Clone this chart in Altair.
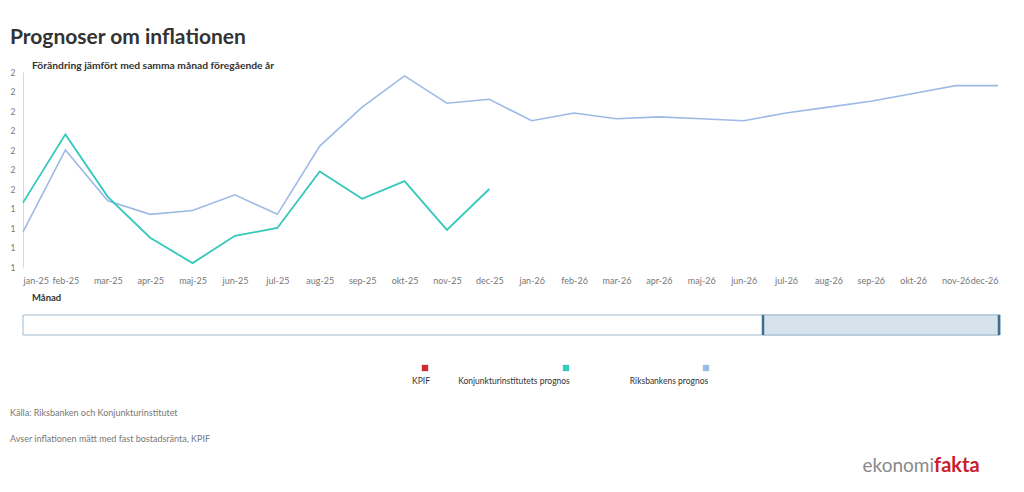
import altair as alt
import pandas as pd

months = ["jan-25", "feb-25", "mar-25", "apr-25", "maj-25", "jun-25", "jul-25", "aug-25",
          "sep-25", "okt-25", "nov-25", "dec-25", "jan-26", "feb-26", "mar-26", "apr-26",
          "maj-26", "jun-26", "jul-26", "aug-26", "sep-26", "okt-26", "nov-26", "dec-26"]

riksbank = [1.28, 1.70, 1.44, 1.37, 1.39, 1.47, 1.37, 1.72, 1.92, 2.08, 1.94, 1.96,
            1.85, 1.89, 1.86, 1.87, 1.86, 1.85, 1.89, 1.92, 1.95, 1.99, 2.03, 2.03]

ki = [1.43, 1.78, 1.46, 1.25, 1.12, 1.26, 1.30, 1.59, 1.45, 1.54, 1.29, 1.50]

y_ticks = [1.1, 1.2, 1.3, 1.4, 1.5, 1.6, 1.7, 1.8, 1.9, 2.0, 2.1]

series_names = ["KPIF", "Konjunkturinstitutets prognos", "Riksbankens prognos"]
series_colors = ["#d42a2f", "#35c8bc", "#9dbae6"]

rows = []
for m, v in zip(months, riksbank):
    rows.append({"månad": m, "värde": v, "serie": series_names[2]})
for m, v in zip(months, ki):
    rows.append({"månad": m, "värde": v, "serie": series_names[1]})
df = pd.DataFrame(rows)

FONT = "Lato"
W, H = 975, 195

x_enc = alt.X("månad:N", sort=months, title=None,
              scale=alt.Scale(type="point", padding=0),
              axis=alt.Axis(labelAngle=0, labelFlush=True, labelOverlap=False,
                            domain=False, ticks=False, labelPadding=9,
                            labelColor="#777", labelFontSize=9, labelFont=FONT))
y_enc = alt.Y("värde:Q", title=None,
              scale=alt.Scale(domain=[1.1, 2.1], nice=False, zero=False),
              axis=alt.Axis(values=y_ticks, format=".0f", grid=False, ticks=False,
                            domainColor="#d8d8d8", labelPadding=8,
                            labelColor="#777", labelFontSize=8.5, labelFont=FONT))

rb_line = alt.Chart(df[df["serie"] == series_names[2]]).mark_line(
    color=series_colors[2], strokeWidth=1.6).encode(x=x_enc, y=y_enc)
ki_line = alt.Chart(df[df["serie"] == series_names[1]]).mark_line(
    color=series_colors[1], strokeWidth=1.8).encode(x=x_enc, y=y_enc)

one = alt.Data(values=[{"a": 1}])


def txt(s, x, y, size=9, weight="normal", color="#666", align="left"):
    return alt.Chart(one).mark_text(
        text=s, font=FONT, fontSize=size, fontWeight=weight, color=color,
        align=align, baseline="middle").encode(x=alt.value(x), y=alt.value(y))


title = txt("Prognoser om inflationen", -13, -34, size=21, weight="bold", color="#333")
subtitle = txt("Förändring jämfört med samma månad föregående år", 9, -6,
               size=10.3, weight="bold", color="#333")
manad = txt("Månad", 9, 226, size=9.5, weight="bold", color="#333")

nav_outer = alt.Chart(one).mark_rect(fill="white", stroke="#9fbbd0", strokeWidth=1).encode(
    x=alt.value(0), x2=alt.value(977), y=alt.value(243), y2=alt.value(263))
nav_sel = alt.Chart(one).mark_rect(fill="#d6e3ec", stroke="#9fbbd0", strokeWidth=1).encode(
    x=alt.value(740), x2=alt.value(976), y=alt.value(243), y2=alt.value(263))
nav_h1 = alt.Chart(one).mark_rule(color="#3c6e8e", strokeWidth=2.5).encode(
    x=alt.value(740), y=alt.value(243), y2=alt.value(263))
nav_h2 = alt.Chart(one).mark_rule(color="#3c6e8e", strokeWidth=2.5).encode(
    x=alt.value(976), y=alt.value(243), y2=alt.value(263))

leg_sq_x = [402, 543, 683]
leg_lab_x = [398, 491, 646]
legend_layers = []
for name, col, sx, lx in zip(series_names, series_colors, leg_sq_x, leg_lab_x):
    legend_layers.append(alt.Chart(one).mark_square(size=40, color=col, opacity=1).encode(
        x=alt.value(sx), y=alt.value(296)))
    legend_layers.append(txt(name, lx, 309, size=8.5, color="#333", align="center"))

src1 = txt("Källa: Riksbanken och Konjunkturinstitutet", -13, 341, size=9, color="#777")
src2 = txt("Avser inflationen mätt med fast bostadsränta, KPIF", -13, 367, size=9, color="#777")

logo1 = alt.Chart(one).mark_text(text="ekonomi", font=FONT, fontSize=19, color="#8a8a8a",
                                 align="right", baseline="middle").encode(
    x=alt.value(911), y=alt.value(394))
logo2 = alt.Chart(one).mark_text(text="fakta", font=FONT, fontSize=20, fontWeight="bold",
                                 color="#c8202a", align="left", baseline="middle").encode(
    x=alt.value(911), y=alt.value(394))

chart = alt.layer(
    rb_line, ki_line, title, subtitle, manad,
    nav_outer, nav_sel, nav_h1, nav_h2,
    *legend_layers, src1, src2, logo1, logo2
).properties(
    width=W, height=H,
    padding={"left": 15, "top": 64, "right": 10, "bottom": 210},
    autosize=alt.AutoSizeParams(type="none"),
    background="white",
).configure_view(stroke=None)

chart.save("out.html", embed_options={"renderer": "svg", "actions": False})
